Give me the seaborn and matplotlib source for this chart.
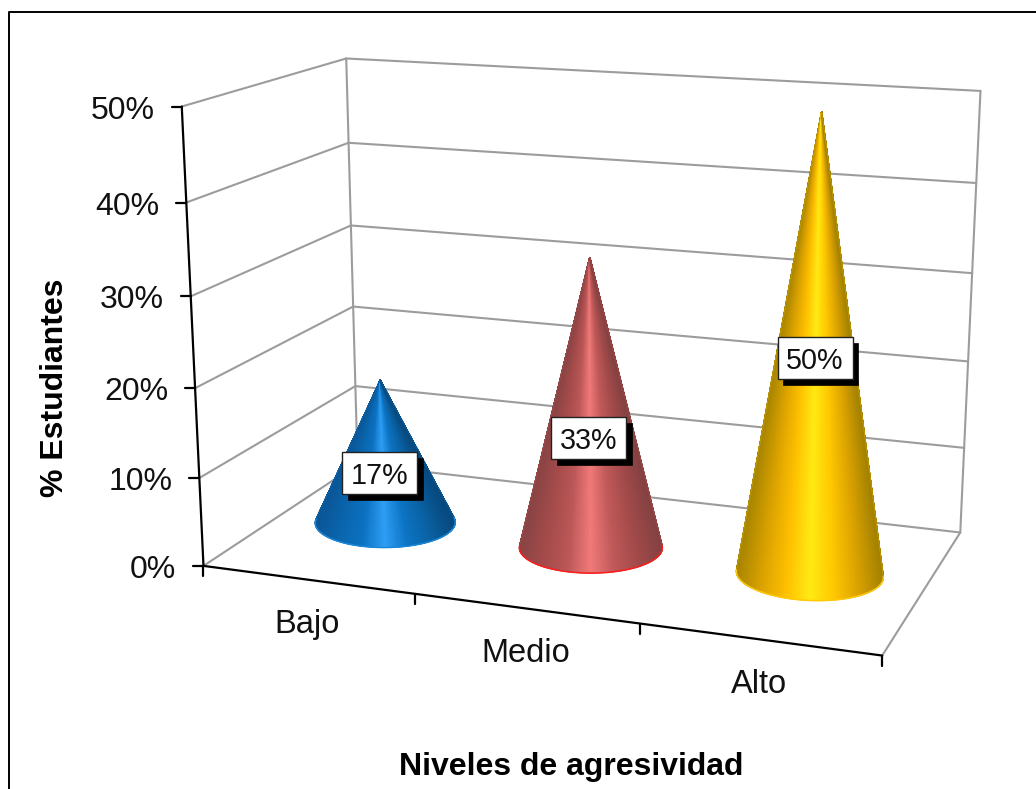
import numpy as np
import pandas as pd
import matplotlib
matplotlib.use("Agg")
import matplotlib.pyplot as plt
from matplotlib.patches import Rectangle
import seaborn as sns

# Chart content
categories = ["Bajo", "Medio", "Alto"]
percentages = [17, 33, 50]
percent_ticks = [0, 10, 20, 30, 40, 50]
x_title = "Niveles de agresividad"
y_title = "% Estudiantes"

# Cone shading ramps, edge to highlight to edge
blue_ramp = ["#0a5798", "#0a66ae", "#0c72c2", "#2f9ff5", "#0c74c4", "#0a62a4", "#074a80"]
red_ramp = ["#8a4444", "#a54b4b", "#bb5757", "#f27a7a", "#c05959", "#a34a4a", "#854141"]
gold_ramp = ["#a88600", "#dca300", "#ffc000", "#ffeb14", "#ffc800", "#dca300", "#a48200"]
rim_colors = ["#1a86d8", "#ff1c1c", "#ffc90a"]
side_colors = ["#0b68ae", "#b05050", "#d8a808"]
base_half_widths = [70, 71.5, 73.5]
base_tilt = [-0.005, 0.0, 0.04]

# Box corners: (category position, percent, depth) and where they land on the canvas
box_world = np.array([(0, 0, 0), (0, 50, 0), (0, 50, 1), (3, 50, 1), (3, 0, 1), (3, 0, 0), (0, 0, 1)], float)
box_canvas = np.array([(203, 565), (182, 107), (346, 58), (980.5, 91), (960, 532), (882.5, 656), (358, 465)], float)


def fit_camera(world, canvas):
    rows = []
    for (a, b, c), (u, v) in zip(world, canvas):
        h = [a, b, c, 1.0]
        rows.append(h + [0, 0, 0, 0] + [-u * q for q in h])
        rows.append([0, 0, 0, 0] + h + [-v * q for q in h])
    return np.linalg.svd(np.array(rows))[2][-1].reshape(3, 4)


camera = fit_camera(box_world, box_canvas)


def project(c, p, d):
    c, p, d = np.broadcast_arrays(np.asarray(c, float), np.asarray(p, float), np.asarray(d, float))
    h = camera @ np.stack([c, p, d, np.ones_like(c)])
    return h[0] / h[2], h[1] / h[2]


sns.set_theme(style="white")
plt.rcParams["font.family"] = ["Liberation Sans", "DejaVu Sans"]

fig = plt.figure(figsize=(10.36, 7.89), dpi=100, facecolor="white")
ax = fig.add_axes([0, 0, 1, 1])

# Wall and floor grid
segments = []
for p in percent_ticks:
    segments.append(((0, p, 0), (0, p, 1)))
    segments.append(((0, p, 1), (3, p, 1)))
segments.append(((0, 0, 1), (0, 50, 1)))
segments.append(((3, 0, 1), (3, 50, 1)))
segments.append(((3, 0, 0), (3, 0, 1)))
rows = []
for i, (start, end) in enumerate(segments):
    for pt in (start, end):
        x, y = project(*pt)
        rows.append({"px": float(x), "py": float(y), "seg": i})
grid = pd.DataFrame(rows)
sns.lineplot(data=grid, x="px", y="py", units="seg", estimator=None, sort=False,
             color="#9c9c9c", linewidth=1.5, ax=ax, legend=False, zorder=1)

# Front axes and ticks
for start, end in (((0, 0, 0), (0, 50, 0)), ((0, 0, 0), (3, 0, 0))):
    xs, ys = project(*np.array([start, end], float).T)
    ax.plot(xs, ys, color="black", lw=1.6, zorder=2, solid_capstyle="round")
for p in percent_ticks:
    x, y = project(0, p, 0)
    ax.plot([x - 10, x], [y, y], color="black", lw=1.6, zorder=2)
    ax.text(x - 27, y + 4, f"{p}%", ha="right", va="center", fontsize=23, color="#111111")
for c in range(len(categories) + 1):
    x, y = project(c, 0, 0)
    ax.plot([x, x], [y, y + 10], color="black", lw=1.6, zorder=2)
for i, name in enumerate(categories):
    x, y = project(i + 0.5, 0, 0)
    ax.text(x, y + 45, name, ha="center", va="center", fontsize=23.5, color="#111111")

# Cones: the base is drawn as a nearly level ellipse on the floor
flatten = 0.355
base_depth = 0.51
angles = np.linspace(0, 2 * np.pi, 721)[:-1]
for i, (value, ramp, rim, side, half, tilt) in enumerate(
        zip(percentages, (blue_ramp, red_ramp, gold_ramp), rim_colors, side_colors, base_half_widths, base_tilt)):
    cmap = sns.blend_palette(ramp, as_cmap=True)
    cx, cy = project(i + 0.5, 0, base_depth)
    bx = cx + half * np.cos(angles)
    by = cy + flatten * half * np.sin(angles) + tilt * half * np.cos(angles)
    tip_x, tip_y = project(i + 0.5, value, 0.5)
    # silhouette lines run from the apex to the base tangent points
    bearing = np.arctan2(bx - tip_x, by - tip_y)
    left, right = int(np.argmin(bearing)), int(np.argmax(bearing))
    low = int(np.argmax(by))
    step = 1 if ((low - left) % len(angles)) < ((right - left) % len(angles)) else -1
    idx = [left]
    k = left
    while k != right:
        k = (k + step) % len(angles)
        idx.append(k)
    arc_x, arc_y = bx[idx], by[idx]
    t = np.array([0.0, 1.0])[:, None]
    mesh_x = tip_x + t * (arc_x - tip_x)
    mesh_y = tip_y + t * (arc_y - tip_y)
    shade = np.tile((arc_x - arc_x.min()) / (arc_x.max() - arc_x.min()), (2, 1))
    ax.pcolormesh(mesh_x, mesh_y, shade, cmap=cmap, shading="gouraud", vmin=0, vmax=1, zorder=3)
    ax.plot([arc_x[0], tip_x, arc_x[-1]], [arc_y[0], tip_y, arc_y[-1]], color=side, lw=0.5, zorder=4,
            alpha=0.7, solid_joinstyle="miter")
    ax.plot(arc_x, arc_y, color=rim, lw=1.1, zorder=4)

# Value labels with hard drop shadows
label_centres = [(379.5, 473), (588.5, 438), (815, 358)]
box_w, box_h = 75, 42
for value, (cx, cy) in zip(percentages, label_centres):
    ax.add_patch(Rectangle((cx - box_w / 2 + 5.5, cy - box_h / 2 + 5.5), box_w, box_h,
                           fc="black", ec="black", lw=0.5, zorder=5))
    ax.add_patch(Rectangle((cx - box_w / 2, cy - box_h / 2), box_w, box_h,
                           fc="white", ec="#222222", lw=1.0, zorder=6))
    ax.text(cx, cy + 3, f"{value}%", ha="center", va="center", fontsize=20.7, color="#111111", zorder=7)

# Axis titles
ax.text(571, 767, x_title, ha="center", va="center", fontsize=23, fontweight="bold", color="black")
ax.text(55, 388, y_title, ha="center", va="center", rotation=90, fontsize=23, fontweight="bold", color="black")

# Chart frame runs off the canvas on the right and at the bottom
ax.plot([8.5, 8.5, 1040], [800, 11.5, 11.5], color="black", lw=1.4, zorder=8)

ax.set_xlim(0, 1036)
ax.set_ylim(789, 0)
ax.set_xlabel("")
ax.set_ylabel("")
ax.axis("off")

fig.savefig("out.png", dpi=100, facecolor="white")
